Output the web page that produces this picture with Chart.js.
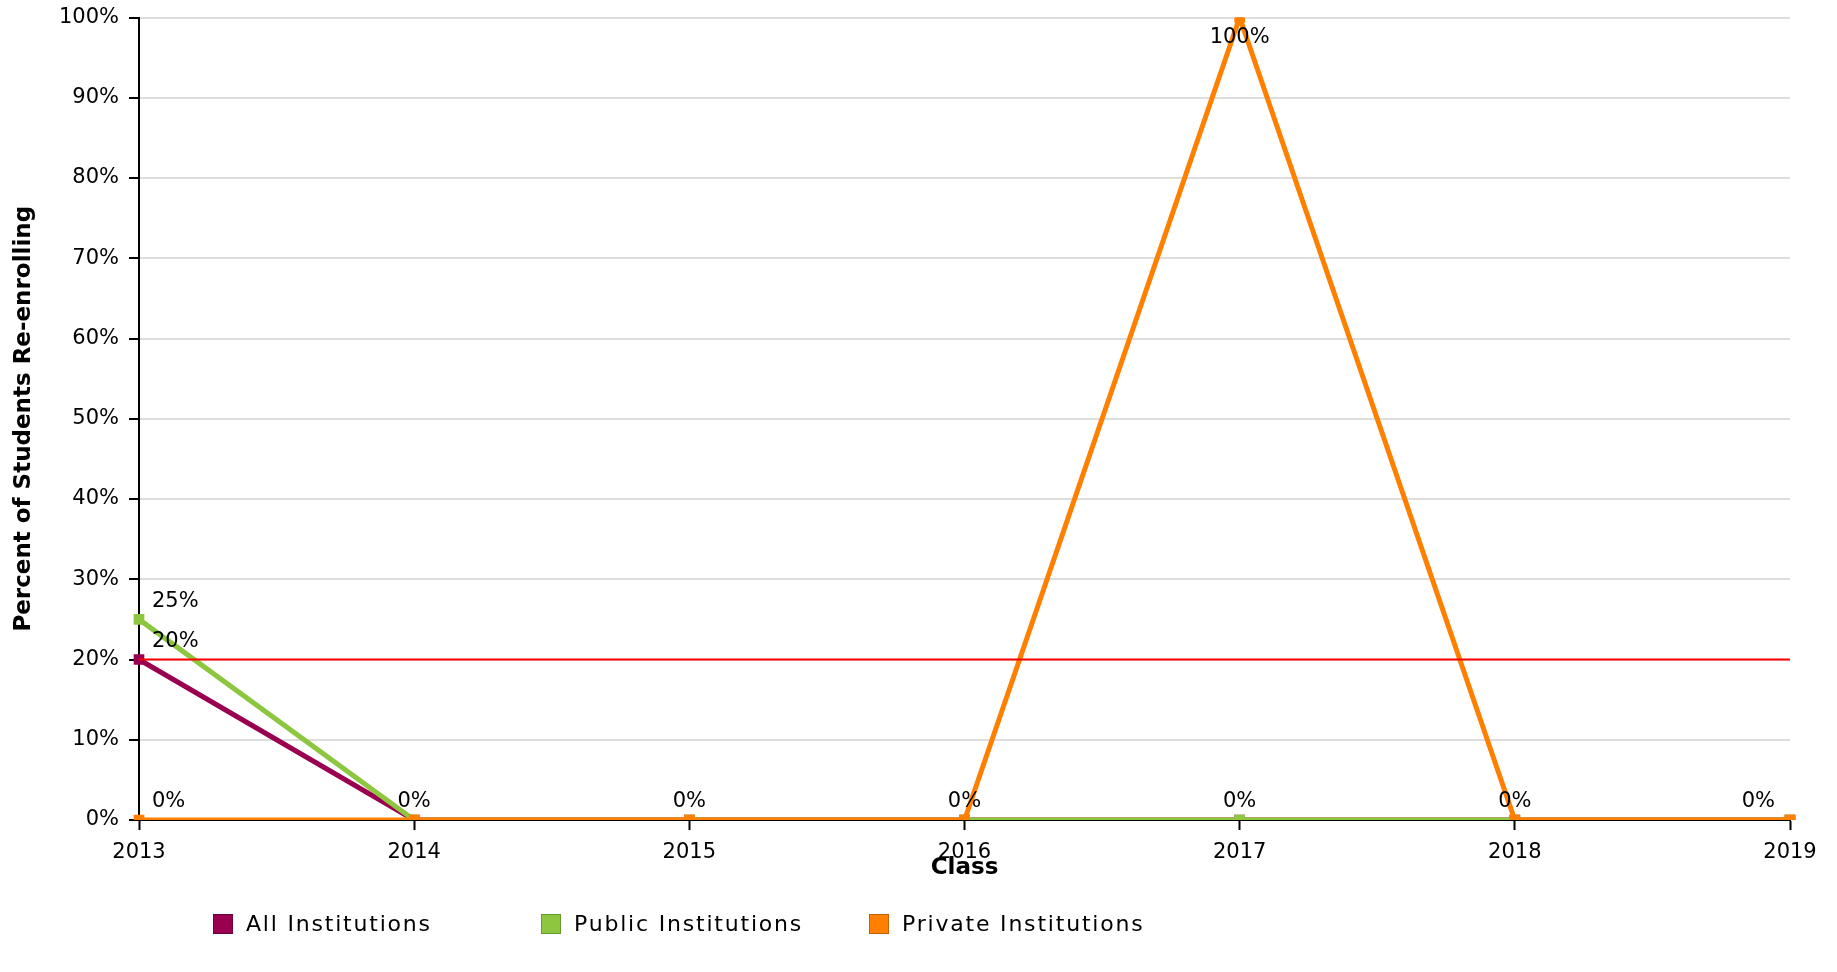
<!DOCTYPE html>
<html>
<head>
<meta charset="utf-8">
<script src="https://cdn.jsdelivr.net/npm/chart.js@4.4.0/dist/chart.umd.min.js"></script>
<style>
  html, body { margin: 0; padding: 0; background: #fff; }
  #wrap { position: relative; width: 1837px; height: 972px; }
  #legend { position: absolute; left: 0; top: 911px; width: 1837px; height: 40px;
            font-family: 'DejaVu Sans', sans-serif; font-size: 22px; letter-spacing: 1.8px; color: #000; }
  .item { position: absolute; top: 0; display: flex; align-items: center; }
  .box { width: 20px; height: 20px; margin-right: 13px; box-sizing: border-box; border: 1px solid; }
</style>
</head>
<body>
<div id="wrap">
  <canvas id="reenrollChart" width="1837" height="972"></canvas>
  <div id="legend"></div>
</div>
<script>
// data
var classes = ['2013', '2014', '2015', '2016', '2017', '2018', '2019'];
var allInst = [20, 0, 0, 0, 0, 0, 0];
var publicInst = [25, 0, 0, 0, 0, 0, 0];
var privateInst = [0, 0, 0, 0, 100, 0, 0];
var target = 20;
var yTicks = [0, 10, 20, 30, 40, 50, 60, 70, 80, 90, 100];

var colors = {
    all: '#990050',
    pub: '#8dc63f',
    priv: '#ff8000'
};

var font = "'DejaVu Sans', sans-serif";

// label tiap titik, dijepit supaya tetap di dalam area plot
var pointLabels = {
    id: 'pointLabels',
    afterDatasetsDraw: function (chart) {
        var ctx = chart.ctx;
        var area = chart.chartArea;
        var done = {};
        ctx.save();
        ctx.font = '21px ' + font;
        ctx.fillStyle = '#000';
        ctx.textBaseline = 'middle';
        ctx.textAlign = 'left';
        chart.data.datasets.forEach(function (ds, i) {
            if (ds.noLabels) return;
            var meta = chart.getDatasetMeta(i);
            meta.data.forEach(function (pt, j) {
                var txt = ds.data[j] + '%';
                var w = ctx.measureText(txt).width;
                var x = pt.x - w / 2;
                if (x < area.left + 13) x = area.left + 13;
                if (x + w > area.right - 15) x = area.right - 15 - w;
                var y = pt.y - 18;
                if (y < area.top + 20) y = area.top + 20;
                var key = txt + '@' + Math.round(x) + ',' + Math.round(y);
                if (done[key]) return;
                done[key] = true;
                ctx.fillText(txt, x, y);
            });
        });
        ctx.restore();
    }
};

var ctx = document.getElementById('reenrollChart').getContext('2d');

var myChart = new Chart(ctx, {
    type: 'line',
    data: {
        labels: classes,
        datasets: [
            {
                label: 'Target',
                data: classes.map(function () { return target; }),
                borderColor: '#ff0000',
                borderWidth: 2,
                pointRadius: 0,
                noLabels: true,
                order: 0
            },
            {
                label: 'Private Institutions',
                data: privateInst,
                borderColor: colors.priv,
                backgroundColor: colors.priv,
                borderWidth: 5,
                pointStyle: 'rect',
                pointRadius: 4,
                order: 1
            },
            {
                label: 'Public Institutions',
                data: publicInst,
                borderColor: colors.pub,
                backgroundColor: colors.pub,
                borderWidth: 5,
                pointStyle: 'rect',
                pointRadius: 4,
                order: 2
            },
            {
                label: 'All Institutions',
                data: allInst,
                borderColor: colors.all,
                backgroundColor: colors.all,
                borderWidth: 5,
                pointStyle: 'rect',
                pointRadius: 4,
                order: 3
            }
        ]
    },
    options: {
        responsive: false,
        animation: false,
        layout: { padding: { top: 17.5, right: 47, bottom: 90, left: 0 } },
        plugins: {
            legend: { display: false },
            tooltip: { enabled: false }
        },
        scales: {
            x: {
                offset: false,
                border: { color: '#000', width: 2 },
                grid: { drawOnChartArea: false, tickColor: '#000', tickLength: 10, tickWidth: 2 },
                ticks: { color: '#000', font: { family: font, size: 21 }, padding: 10, maxRotation: 0 },
                title: { display: true, text: 'Class', color: '#000',
                         font: { family: font, size: 23, weight: 'bold' }, padding: { top: 0, bottom: 0 } },
                afterFit: function (s) { s.height = 62; s.paddingLeft = 0; s.paddingRight = 0; }
            },
            y: {
                min: 0,
                max: 100,
                border: { color: '#000', width: 2 },
                grid: { color: '#dddddd', lineWidth: 2, tickColor: '#000', tickLength: 10, tickWidth: 2 },
                afterBuildTicks: function (s) { s.ticks = yTicks.map(function (v) { return { value: v }; }); },
                ticks: {
                    color: '#000', font: { family: font, size: 21 }, padding: 10,
                    callback: function (v) { return v + '%'; }
                },
                title: { display: true, text: 'Percent of Students Re-enrolling', color: '#000',
                         font: { family: font, size: 23, weight: 'bold' }, padding: { top: 10, bottom: 0 } },
                afterFit: function (s) { s.width = 139; s.paddingTop = 0; s.paddingBottom = 0; }
            }
        }
    },
    plugins: [pointLabels]
});

// legenda manual di bawah
var legendItems = [
    { text: 'All Institutions', fill: colors.all, border: '#6d0039', left: 213 },
    { text: 'Public Institutions', fill: colors.pub, border: '#6a9a2c', left: 541 },
    { text: 'Private Institutions', fill: colors.priv, border: '#c86400', left: 869 }
];
var legendEl = document.getElementById('legend');
legendItems.forEach(function (it) {
    var d = document.createElement('div');
    d.className = 'item';
    d.style.left = it.left + 'px';
    d.innerHTML = '<span class="box" style="background:' + it.fill + ';border-color:' + it.border + '"></span>' +
        '<span>' + it.text + '</span>';
    legendEl.appendChild(d);
});
</script>
</body>
</html>
